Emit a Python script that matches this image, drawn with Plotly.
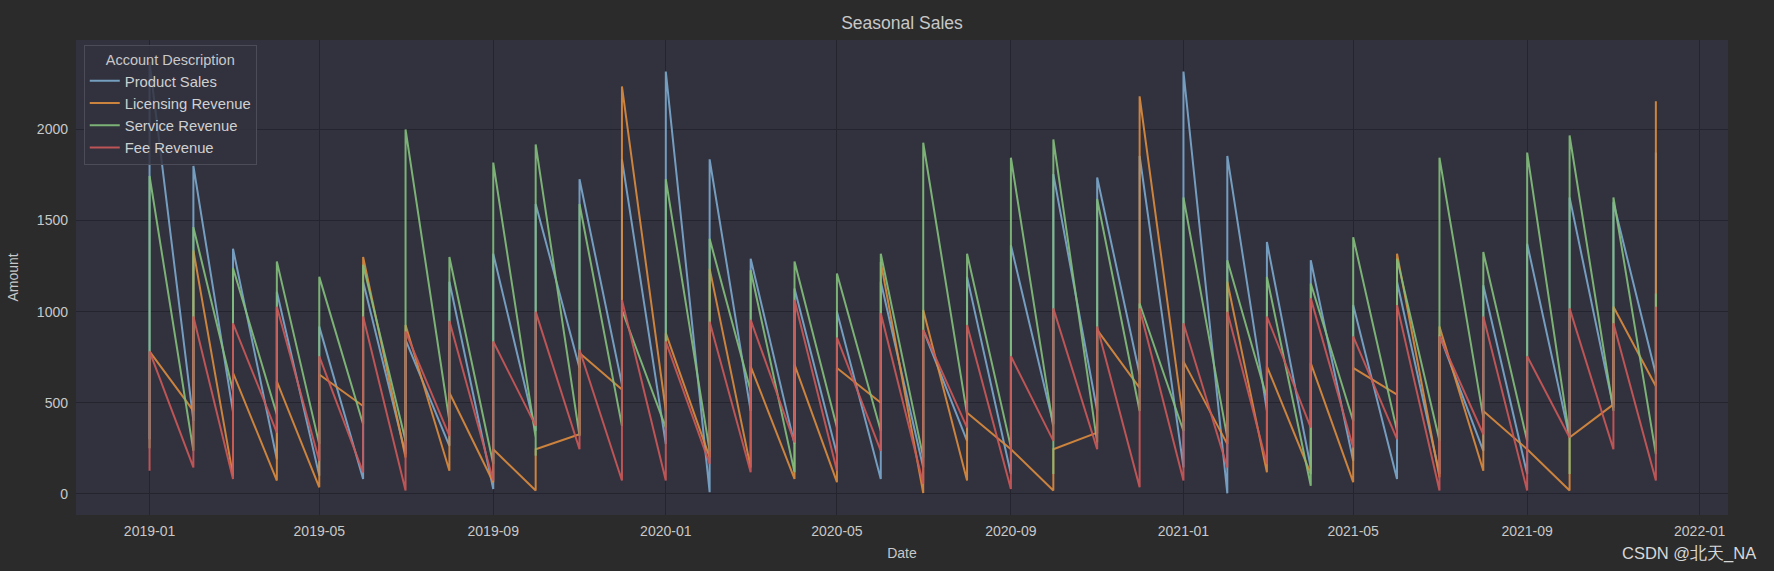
import plotly.graph_objects as go
import pandas as pd

# monthly sales, one vertical run per month: first value -> (dip) -> last value
months = pd.date_range("2019-01-01", periods=36, freq="MS")

product_first = [300, 400, 450, 190, 100, 82, 218, 264, 27, 345, 691, 600,
                 273, 9, 455, 273, 218, 82, 145, 291, 109, 382, 455, 655,
                 145, 3, 455, 145, 182, 82, 109, 236, 109, 309, 473, 655]
product_last = [2370, 1800, 1345, 1109, 918, 1164, 845, 1164, 1318, 1591, 1727, 1836,
                2318, 1836, 1291, 1127, 1000, 1164, 900, 1191, 1364, 1755, 1736, 1855,
                2318, 1855, 1382, 1282, 1036, 1164, 873, 1145, 1373, 1627, 1600, 1873]

licensing_first = [782, 455, 100, 73, 36, 482, 200, 127, 64, 18, 327, 573,
                   455, 200, 145, 82, 64, 500, 5, 73, 245, 18, 336, 582,
                   400, 273, 118, 109, 64, 545, 91, 127, 245, 18, 491, 591]
licensing_last = [782, 1336, 664, 618, 655, 1300, 927, 555, 245, 245, 773, 2236,
                  882, 1236, 700, 709, 691, 1273, 1009, 445, 245, 245, 900, 2182,
                  727, 1164, 700, 718, 691, 1318, 918, 455, 245, 309, 1027, 2155]

service_first = [250, 236, 564, 436, 273, 382, 291, 400, 164, 309, 318, 373,
                 364, 236, 564, 118, 364, 345, 200, 436, 255, 364, 282, 455,
                 345, 309, 527, 45, 400, 345, 291, 418, 291, 309, 455, 218]
service_last = [1745, 1464, 1240, 1276, 1191, 1258, 2000, 1300, 1818, 1918, 1591, 1009,
                1727, 1400, 1227, 1276, 1209, 1318, 1927, 1318, 1845, 1945, 1618, 1045,
                1627, 1282, 1191, 1155, 1409, 1291, 1845, 1327, 1873, 1967, 1627, 1100]
service_dips = {"2019-10": 209, "2020-10": 109, "2021-10": 109}

fee_first = [127, 145, 82, 336, 182, 118, 18, 318, 73, 373, 245, 73,
             73, 164, 118, 282, 127, 236, 55, 364, 27, 291, 245, 36,
             73, 145, 164, 364, 255, 300, 18, 327, 18, 309, 245, 73]
fee_last = [782, 973, 936, 1027, 755, 973, 891, 949, 836, 1000, 791, 1064,
            836, 945, 955, 1064, 858, 991, 900, 927, 755, 1018, 918, 1018,
            936, 1000, 973, 1073, 864, 1036, 864, 973, 755, 1018, 936, 1027]

series = [
    ("Product Sales", product_first, product_last, {}, "#7ba7ca"),
    ("Licensing Revenue", licensing_first, licensing_last, {}, "#d98a3d"),
    ("Service Revenue", service_first, service_last, service_dips, "#83bd7b"),
    ("Fee Revenue", fee_first, fee_last, {}, "#c95858"),
]


def _month_path(first, last, dips):
    xs, ys = [], []
    for d, a, b in zip(months, first, last):
        key = d.strftime("%Y-%m")
        vals = [a, dips[key], b] if key in dips else [a, b]
        xs += [d] * len(vals)
        ys += vals
    return xs, ys


fig = go.Figure()
for name, first, last, dips, color in series:
    xs, ys = _month_path(first, last, dips)
    fig.add_trace(go.Scatter(x=xs, y=ys, mode="lines", name=name,
                             line=dict(color=color, width=2), opacity=0.92))

fig.add_annotation(xref="paper", yref="paper", x=1.018, y=-0.082,
                   xanchor="right", yanchor="middle", showarrow=False,
                   text="CSDN @北天_NA", font=dict(size=16.5, color="#d8d8d8"))

grid = "#24242e"
txt = "#c8c8c8"
fig.update_layout(
    width=1774, height=571,
    margin=dict(l=76, r=46, t=40, b=53),
    paper_bgcolor="#2b2b2b",
    plot_bgcolor="#32323f",
    font=dict(family="Liberation Sans", color=txt, size=14),
    title=dict(text="Seasonal Sales", xref="paper", x=0.5, xanchor="center",
               y=0.96, yanchor="middle", font=dict(size=17.5, color=txt)),
    showlegend=True,
    legend=dict(
        title=dict(text="Account Description", side="top center",
                   font=dict(size=14.5, color=txt)),
        x=0.0047, y=0.99, xanchor="left", yanchor="top",
        bgcolor="rgba(50,50,64,0.85)", bordercolor="#4c4c58", borderwidth=1,
        font=dict(size=14.8, color="#d0d0d0"), itemwidth=30,
        tracegroupgap=0,
    ),
    xaxis=dict(
        title=dict(text="Date", standoff=10, font=dict(size=14)),
        range=["2018-11-10", "2022-01-21"],
        tick0="2019-01-01", dtick="M4", tickformat="%Y-%m",
        ticklabelstandoff=6,
        showgrid=True, gridcolor=grid, gridwidth=1.3,
        zeroline=False, showline=False, ticks="",
    ),
    yaxis=dict(
        title=dict(text="Amount", standoff=14, font=dict(size=14)),
        range=[-116, 2491], tick0=0, dtick=500,
        ticklabelstandoff=7,
        showgrid=True, gridcolor=grid, gridwidth=1.3,
        zeroline=False, showline=False, ticks="",
    ),
)

fig.write_html(
    "out.html",
    config={"displayModeBar": False},
    post_script="document.body.style.margin='0';"
                "document.body.style.background='#2b2b2b';",
)
